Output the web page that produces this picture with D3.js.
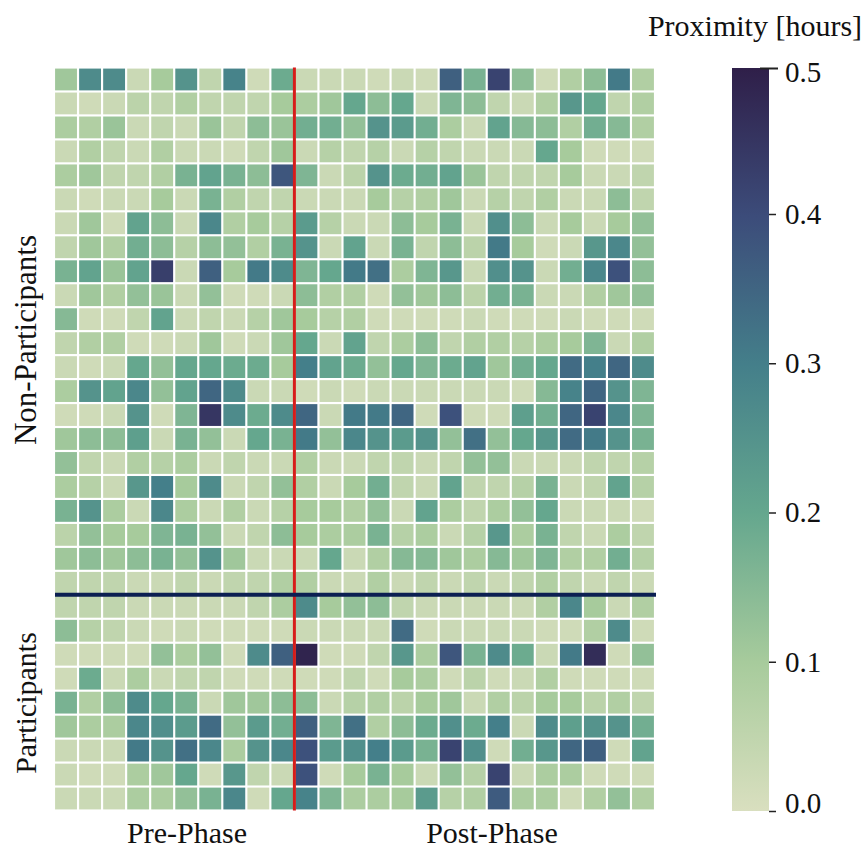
<!DOCTYPE html>
<html>
<head>
<meta charset="utf-8">
<script src="https://cdn.jsdelivr.net/npm/d3@7"></script>
<style>
  html, body { margin: 0; padding: 0; background: #fff; }
  text { font-family: "Liberation Serif", serif; fill: #111; }
</style>
</head>
<body>
<div id="graph_container"></div>
<script>
// proximity in hours, one row per person, 25 time slots
var non_participants = [
  [.11,.27,.27,.03,.10,.25,.05,.29,.02,.19,.03,.03,.03,.02,.03,.02,.36,.17,.42,.14,.02,.08,.14,.31,.08],
  [.03,.02,.03,.06,.05,.08,.05,.05,.05,.10,.09,.11,.20,.14,.20,.03,.16,.14,.05,.03,.08,.24,.20,.05,.08],
  [.09,.08,.12,.03,.05,.03,.12,.05,.14,.12,.18,.18,.13,.25,.23,.18,.09,.03,.21,.15,.14,.08,.18,.15,.08],
  [.03,.08,.05,.03,.08,.03,.03,.02,.05,.11,.03,.07,.05,.07,.03,.07,.05,.03,.03,.03,.20,.10,.02,.02,.02],
  [.09,.11,.05,.05,.08,.17,.21,.17,.14,.38,.16,.03,.06,.25,.19,.18,.21,.12,.05,.05,.05,.10,.03,.03,.05],
  [.03,.02,.03,.03,.10,.03,.17,.08,.05,.05,.03,.03,.03,.10,.07,.08,.11,.03,.07,.05,.08,.03,.03,.14,.05],
  [.03,.11,.02,.21,.14,.03,.28,.08,.10,.07,.23,.07,.03,.03,.14,.10,.17,.03,.26,.14,.03,.10,.03,.10,.13],
  [.05,.11,.08,.18,.14,.07,.14,.13,.08,.17,.25,.03,.21,.03,.17,.05,.14,.06,.31,.10,.02,.03,.24,.28,.13],
  [.17,.21,.12,.21,.43,.03,.36,.10,.31,.27,.16,.20,.31,.33,.09,.16,.24,.03,.26,.25,.03,.18,.28,.39,.14],
  [.03,.11,.08,.13,.12,.03,.13,.02,.02,.03,.14,.08,.08,.02,.13,.11,.14,.06,.18,.17,.03,.03,.08,.11,.13],
  [.15,.02,.02,.05,.21,.03,.05,.03,.07,.11,.10,.07,.08,.02,.02,.02,.02,.03,.02,.02,.02,.03,.02,.02,.02],
  [.05,.08,.08,.02,.02,.03,.11,.02,.03,.11,.20,.03,.21,.05,.09,.14,.05,.08,.08,.07,.09,.10,.16,.03,.08],
  [.03,.02,.03,.20,.13,.20,.20,.19,.19,.10,.30,.21,.19,.13,.20,.16,.19,.21,.11,.18,.20,.34,.30,.35,.27],
  [.09,.25,.21,.28,.13,.21,.35,.27,.03,.03,.02,.03,.02,.03,.03,.03,.03,.03,.03,.02,.15,.29,.35,.25,.16],
  [.02,.02,.03,.25,.02,.16,.45,.27,.19,.27,.35,.03,.31,.31,.35,.02,.39,.02,.02,.22,.18,.35,.42,.28,.16],
  [.11,.14,.14,.22,.03,.17,.13,.03,.20,.17,.31,.13,.28,.25,.23,.25,.13,.33,.13,.20,.24,.34,.31,.25,.17],
  [.13,.05,.03,.08,.07,.09,.03,.05,.03,.03,.08,.03,.03,.05,.05,.03,.05,.13,.13,.03,.03,.03,.05,.05,.07],
  [.09,.07,.03,.24,.30,.10,.27,.03,.05,.13,.08,.03,.10,.18,.05,.03,.21,.05,.05,.07,.17,.03,.05,.21,.07],
  [.17,.25,.09,.03,.28,.09,.03,.08,.03,.07,.10,.10,.08,.13,.03,.21,.09,.05,.09,.13,.20,.03,.03,.03,.02],
  [.06,.13,.10,.10,.16,.17,.13,.03,.05,.14,.10,.09,.09,.17,.07,.09,.03,.07,.24,.09,.17,.05,.03,.09,.05],
  [.11,.14,.11,.14,.17,.13,.25,.11,.03,.03,.03,.20,.03,.08,.15,.15,.11,.09,.15,.11,.16,.08,.08,.18,.07],
  [.05,.05,.05,.03,.03,.05,.03,.05,.05,.08,.08,.03,.03,.08,.03,.05,.03,.05,.03,.05,.08,.05,.03,.05,.03]
];
var participants = [
  [.05,.05,.05,.03,.03,.03,.03,.03,.05,.09,.27,.10,.13,.14,.05,.03,.03,.03,.03,.03,.08,.28,.10,.03,.08],
  [.14,.07,.05,.03,.02,.03,.02,.02,.02,.02,.03,.03,.03,.03,.34,.02,.03,.03,.03,.03,.02,.02,.08,.27,.02],
  [.02,.02,.02,.02,.13,.09,.13,.02,.27,.36,.49,.02,.02,.05,.24,.09,.38,.17,.27,.19,.03,.31,.47,.02,.13],
  [.02,.19,.03,.09,.03,.05,.05,.02,.02,.02,.02,.02,.05,.02,.10,.09,.02,.06,.02,.03,.08,.02,.02,.02,.02],
  [.17,.08,.14,.27,.20,.17,.03,.11,.11,.14,.14,.03,.07,.08,.06,.10,.11,.03,.08,.06,.10,.10,.06,.08,.05],
  [.11,.09,.09,.28,.26,.23,.34,.13,.23,.18,.36,.16,.33,.08,.14,.19,.26,.19,.30,.03,.27,.22,.25,.25,.18],
  [.03,.03,.03,.31,.25,.33,.28,.09,.25,.28,.39,.23,.26,.30,.23,.17,.42,.26,.02,.18,.24,.35,.36,.02,.21],
  [.03,.02,.02,.09,.11,.20,.02,.24,.05,.03,.39,.02,.10,.17,.10,.03,.13,.07,.42,.03,.09,.09,.02,.02,.02],
  [.03,.03,.03,.09,.09,.13,.17,.28,.02,.20,.29,.16,.09,.09,.10,.23,.07,.08,.37,.09,.09,.02,.08,.13,.08]
];
var pre_slots = 10;
var tick_values = [0, 0.1, 0.2, 0.3, 0.4, 0.5];
var color_domain = [0, 0.1, 0.2, 0.3, 0.4, 0.5];
var color_range  = ["#d9dfbf", "#a7cb9c", "#65a78e", "#447f8a", "#3c4c7a", "#2f1f49"];

var width = 867, height = 850;
var left = 54, right = 655, top_y = 67.5, bottom_y = 810.5;
var bar_x = 732, bar_w = 37, bar_top = 68, bar_bottom = 811;

var rows = non_participants.concat(participants);
var slots = d3.range(rows[0].length);

var x = d3.scaleBand().domain(slots).range([left, right]).paddingInner(0.09).paddingOuter(0.045);
var y = d3.scaleBand().domain(d3.range(rows.length)).range([top_y, bottom_y]).paddingInner(0.09).paddingOuter(0.045);
var color = d3.scaleLinear().domain(color_domain).range(color_range);
// ticks in the picture are not quite evenly spaced at the top end
var bar_scale = d3.scaleLinear().domain([0, 0.4, 0.5]).range([bar_bottom, 214, bar_top]);

var svg = d3.select("#graph_container").append("svg")
  .attr("width", width).attr("height", height).style("display", "block");

// cells
var row_g = svg.selectAll("g.row").data(rows).enter().append("g").attr("class", "row");
row_g.each(function(row, r) {
  d3.select(this).selectAll("rect").data(row).enter().append("rect")
    .attr("x", function(d, i) { return x(i); })
    .attr("y", y(r))
    .attr("width", x.bandwidth())
    .attr("height", y.bandwidth())
    .attr("fill", function(d) { return color(d); });
});

// phase and group separators
var split_x = x(pre_slots) - (x.step() - x.bandwidth()) / 2;
var split_y = y(non_participants.length) - (y.step() - y.bandwidth()) / 2;
svg.append("line").attr("x1", split_x).attr("x2", split_x).attr("y1", top_y).attr("y2", bottom_y)
  .attr("stroke", "#d61d1a").attr("stroke-width", 3);
svg.append("line").attr("x1", left + 1).attr("x2", right + 1).attr("y1", split_y).attr("y2", split_y)
  .attr("stroke", "#0b1f52").attr("stroke-width", 4);

// colorbar
var grad = svg.append("defs").append("linearGradient").attr("id", "bar_grad")
  .attr("x1", 0).attr("x2", 0).attr("y1", 1).attr("y2", 0);
grad.selectAll("stop").data(color_domain).enter().append("stop")
  .attr("offset", function(d) { return d / 0.5; })
  .attr("stop-color", function(d) { return color(d); });
svg.append("rect").attr("x", bar_x).attr("y", bar_top).attr("width", bar_w).attr("height", bar_bottom - bar_top)
  .attr("fill", "url(#bar_grad)");

var axis = d3.axisRight(bar_scale).tickValues(tick_values).tickFormat(d3.format(".1f")).tickSize(7).tickPadding(9);
var axis_g = svg.append("g").attr("transform", "translate(" + (bar_x + bar_w) + ",0)").call(axis);
axis_g.select(".domain").remove();
axis_g.selectAll("line").attr("stroke", "#222").attr("stroke-width", 1.5);
axis_g.selectAll("text").style("font-size", "29px").attr("fill", "#111")
  .style("font-family", '"Liberation Serif", serif');
// end labels sit inside the bar's range, the top tick runs into the bar
axis_g.selectAll(".tick").filter(function(d) { return d === 0.5; }).select("text").attr("y", 4);
axis_g.selectAll(".tick").filter(function(d) { return d === 0.5; }).select("line")
  .attr("x1", -9).attr("x2", 9).attr("stroke-width", 2);
axis_g.selectAll(".tick").filter(function(d) { return d === 0; }).select("text").attr("y", -8);

// titles
function label(txt, px, py, rot, size) {
  svg.append("text").text(txt)
    .attr("transform", "translate(" + px + "," + py + ") rotate(" + rot + ")")
    .attr("text-anchor", "middle")
    .style("font-size", size + "px");
}
label("Proximity [hours]", 755, 36, 0, 30);
label("Non-Participants", 36, 340, -90, 31);
label("Participants", 36, 703, -90, 30);
label("Pre-Phase", 187, 843, 0, 30);
label("Post-Phase", 492, 843, 0, 30);
</script>
</body>
</html>
